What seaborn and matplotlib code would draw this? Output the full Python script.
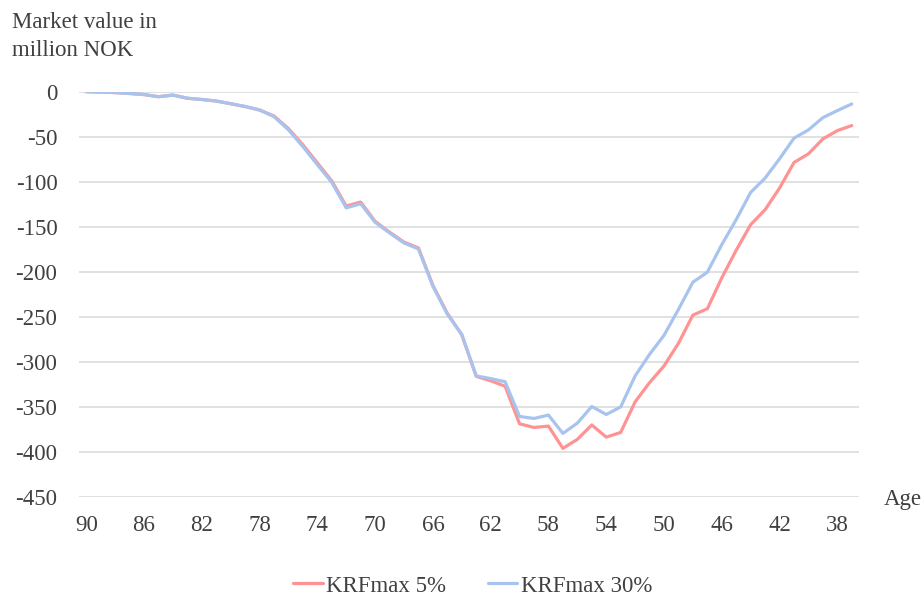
import matplotlib
matplotlib.use("Agg")
import matplotlib.pyplot as plt
import seaborn as sns
import pandas as pd
from matplotlib.lines import Line2D

ages = [90, 89, 88, 87, 86, 85, 84, 83, 82, 81, 80, 79, 78, 77, 76, 75, 74, 73,
        72, 71, 70, 69, 68, 67, 66, 65, 64, 63, 62, 61, 60, 59, 58, 57, 56, 55,
        54, 53, 52, 51, 50, 49, 48, 47, 46, 45, 44, 43, 42, 41, 40, 39, 38, 37]

krf5 = [0, -0.5, -1, -2, -3.2, -5.6, -3.8, -7.3, -8.7, -10.4, -13.4, -16.5, -20.3,
        -27, -41, -59, -79, -99, -127, -122.5, -144, -156, -167, -173.5, -215,
        -246, -270, -316, -321, -327, -368.7, -372.8, -371.3, -396, -386, -370,
        -383.5, -378.3, -344.4, -323, -304.5, -279.4, -248, -241, -206.7, -176,
        -147.6, -131, -107, -78.6, -69, -52.4, -43.2, -37.6]

krf30 = [0, -0.4, -0.9, -2, -3.1, -5.5, -3.7, -7.2, -8.6, -10.3, -13.3, -16.4, -20.3,
         -27.7, -42.4, -61, -81, -100.7, -129, -124.4, -145, -156.8, -168, -174.6,
         -216, -247, -269.5, -315.6, -318.5, -322, -360.6, -362.8, -359, -379.4,
         -368, -349.5, -358.4, -350, -315.6, -291.6, -270.5, -241.7, -211.5,
         -200.4, -169.8, -142, -111.8, -95.9, -74.5, -51.6, -42.4, -28.8, -21, -13.6]

series_names = ["KRFmax 5%", "KRFmax 30%"]
xtick_ages = [90, 86, 82, 78, 74, 70, 66, 62, 58, 54, 50, 46, 42, 38]
yticks = [0, -50, -100, -150, -200, -250, -300, -350, -400, -450]

df = pd.concat([
    pd.DataFrame({"Age": ages, "Value": krf5, "Series": series_names[0]}),
    pd.DataFrame({"Age": ages, "Value": krf30, "Series": series_names[1]}),
])

sns.set_theme(style="white")
plt.rcParams["font.family"] = ["Liberation Serif", "DejaVu Serif"]

FS = 16.5
TXT = "#404040"
W, H = 923, 599
fig = plt.figure(figsize=(W / 100, H / 100), dpi=100)
ax = fig.add_axes([79 / W, 1 - 497 / H, (859 - 79) / W, (497 - 91.7) / H])

palette = {series_names[0]: "#FF9393", series_names[1]: "#A8C4EE"}
sns.lineplot(data=df, x="Age", y="Value", hue="Series", palette=palette,
             linewidth=2.3, ax=ax, legend=False, sort=False)

ax.set_xlim(90.5, 36.5)
ax.set_ylim(-450, 0)
ax.set_yticks(yticks)
ax.set_yticklabels([str(v) for v in yticks])
ax.set_xticks(xtick_ages)
ax.set_xticklabels([str(a) for a in xtick_ages])
ax.yaxis.grid(True, color="#D9D9D9", linewidth=1.1)
ax.xaxis.grid(False)
ax.set_axisbelow(True)
for s in ax.spines.values():
    s.set_visible(False)
ax.tick_params(axis="both", length=0, labelsize=FS, labelcolor=TXT)
ax.tick_params(axis="y", pad=15.5)
ax.tick_params(axis="x", pad=13)
ax.set_xlabel("")
ax.set_ylabel("")

fig.text(12 / W, 1 - 22 / H, "Market value in", ha="left", va="center",
         fontsize=FS, color=TXT)
fig.text(12 / W, 1 - 50 / H, "million NOK", ha="left", va="center",
         fontsize=FS, color=TXT)
fig.text(884 / W, 1 - 500 / H, "Age", ha="left", va="center", fontsize=FS,
         color=TXT)

handles = [Line2D([], [], color=palette[n], linewidth=2.3) for n in series_names]
fig.legend(handles, series_names, loc="center", bbox_to_anchor=(0.512, 1 - 586 / H),
           ncol=2, frameon=False, fontsize=FS, handlelength=1.3,
           handletextpad=0.15, columnspacing=1.8, labelcolor=TXT)

fig.savefig("out.png", dpi=100)
